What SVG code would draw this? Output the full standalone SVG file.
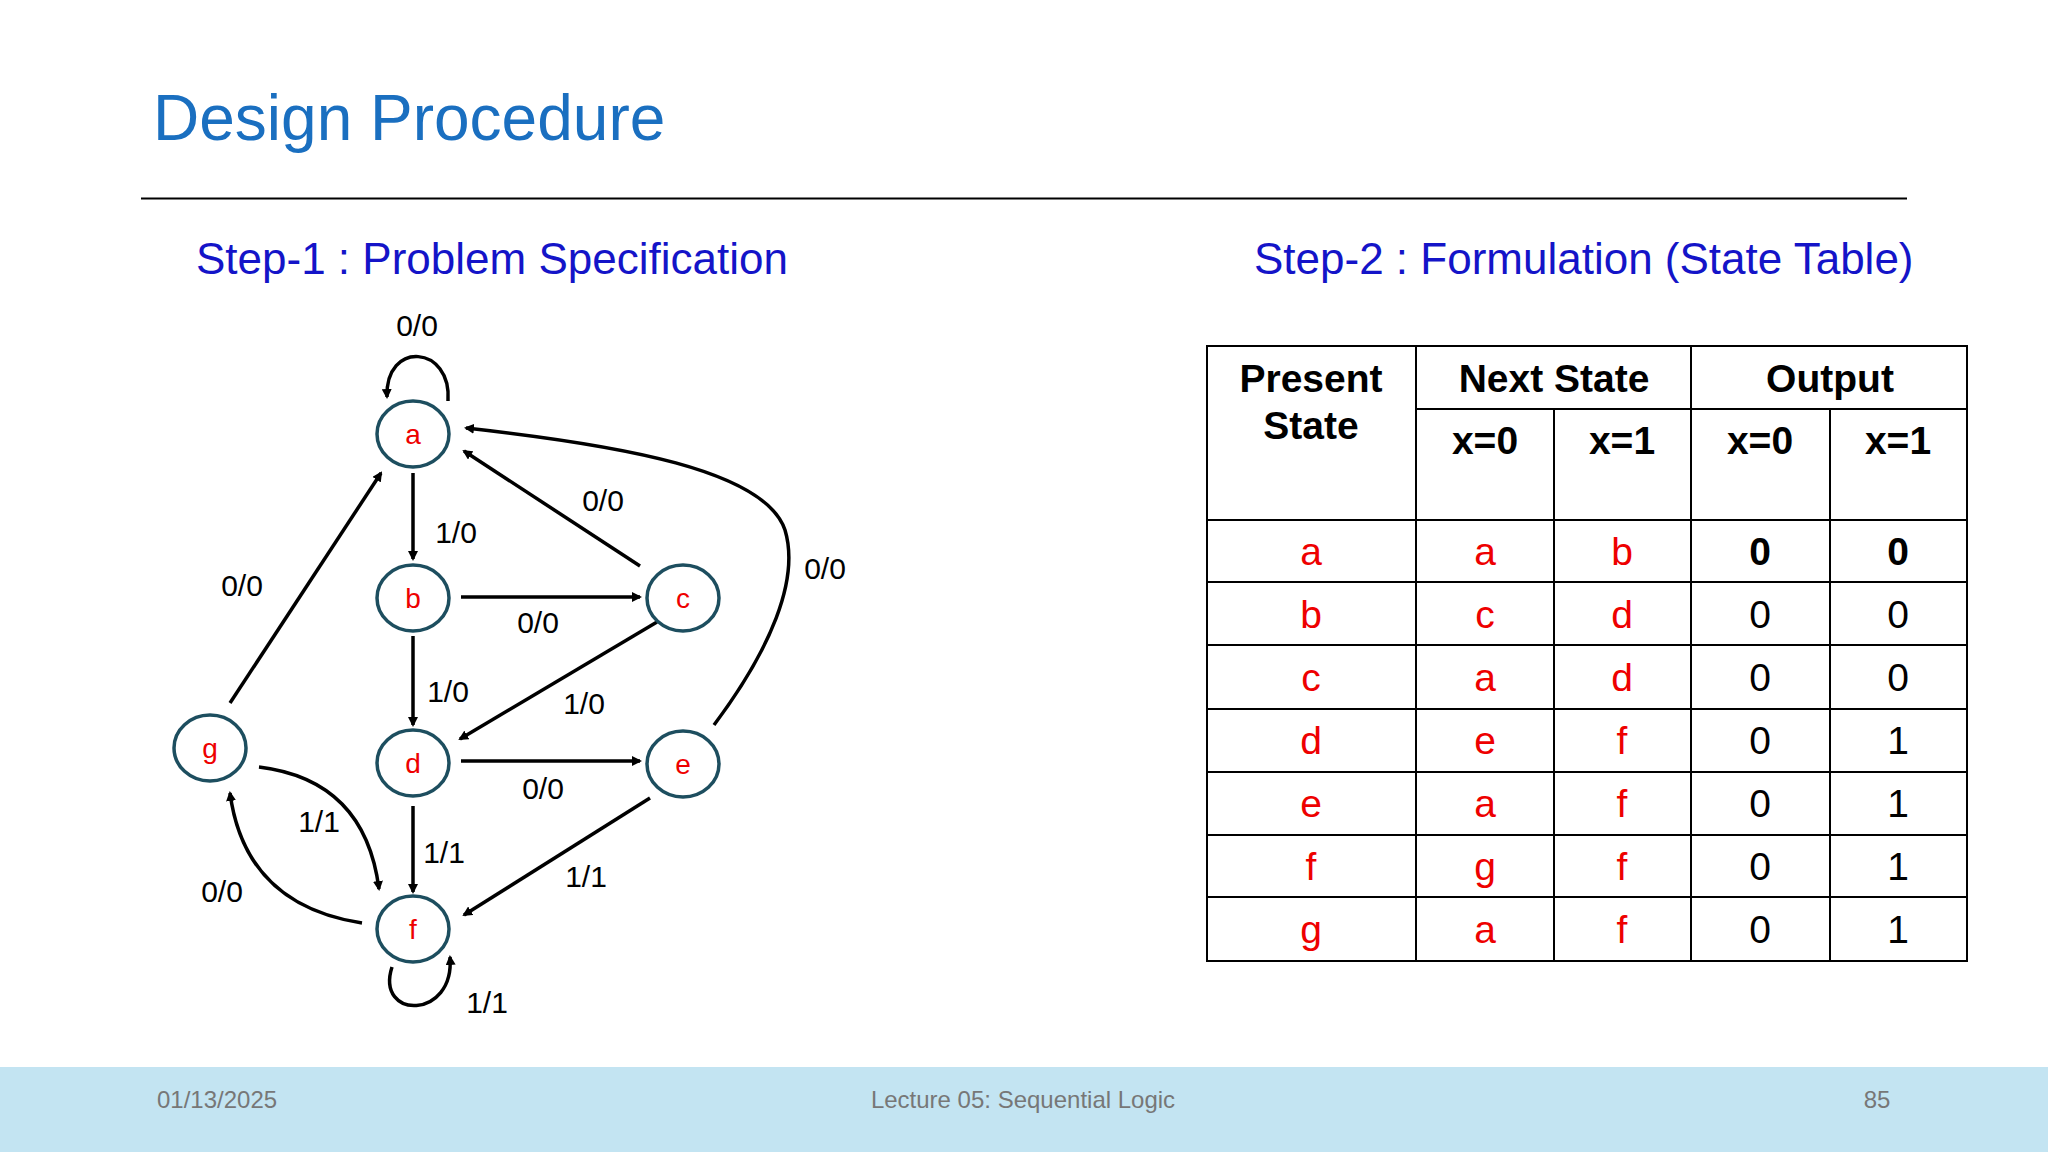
<svg xmlns="http://www.w3.org/2000/svg" width="2048" height="1152" viewBox="0 0 2048 1152">
<defs>
<marker id="ah" markerWidth="10" markerHeight="10" refX="8" refY="5" orient="auto" markerUnits="userSpaceOnUse" viewBox="0 0 10 10"><path d="M0,0 L10,5 L0,10 z" fill="#000"/></marker>
<style>
.t{font-family:"Liberation Sans",Arial,sans-serif}
.node ellipse{fill:#fff;stroke:#1d4e5f;stroke-width:3.5}
.node text{font-family:"Liberation Sans",Arial,sans-serif;font-size:28px;fill:#e00;text-anchor:middle;dominant-baseline:central}
.e{fill:none;stroke:#000;stroke-width:3.5;marker-end:url(#ah)}
.lb{font-family:"Liberation Sans",Arial,sans-serif;font-size:30px;fill:#000;text-anchor:middle;dominant-baseline:central}
.g{stroke:#000;stroke-width:2;fill:none}
.h{font-family:"Liberation Sans",Arial,sans-serif;font-size:39px;font-weight:bold;text-anchor:middle}
.c{font-family:"Liberation Sans",Arial,sans-serif;font-size:39px;text-anchor:middle;dominant-baseline:central}
.r{fill:#e00}
.f{font-family:"Liberation Sans",Arial,sans-serif;font-size:24px;fill:#777}
</style>
</defs>
<rect width="2048" height="1152" fill="#fff"/>
<text class="t" x="153" y="140" font-size="64" fill="#1a6fc0">Design Procedure</text>
<line x1="141" y1="198.5" x2="1907" y2="198.5" stroke="#000" stroke-width="2"/>
<text class="t" x="196" y="274" font-size="44" fill="#1414c8">Step-1 : Problem Specification</text>
<text class="t" x="1254" y="274" font-size="44" fill="#1414c8">Step-2 : Formulation (State Table)</text>

<g id="connectors">
<path class="e" d="M448,401 C452,345 385,340 387,397"/>
<path class="e" d="M413,473 L413,559"/>
<path class="e" d="M461,597 L640,597"/>
<path class="e" d="M640,566 L464,451"/>
<path class="e" d="M413,636 L413,725"/>
<path class="e" d="M657,622 L460,739"/>
<path class="e" d="M461,761 L640,761"/>
<path class="e" d="M714,725 C770,650 800,580 785,530 C765,470 620,445 466,428"/>
<path class="e" d="M413,806 L413,892"/>
<path class="e" d="M650,798 L464,915"/>
<path class="e" d="M230,703 L381,473"/>
<path class="e" d="M259,767 Q365,780 379,889"/>
<path class="e" d="M362,923 Q245,905 230,793"/>
<path class="e" d="M392,967 C375,1020 455,1020 450,957"/>
<text class="lb" x="417" y="325">0/0</text>
<text class="lb" x="456" y="532">1/0</text>
<text class="lb" x="538" y="622">0/0</text>
<text class="lb" x="603" y="500">0/0</text>
<text class="lb" x="448" y="691">1/0</text>
<text class="lb" x="584" y="703">1/0</text>
<text class="lb" x="543" y="788">0/0</text>
<text class="lb" x="825" y="568">0/0</text>
<text class="lb" x="444" y="852">1/1</text>
<text class="lb" x="586" y="876">1/1</text>
<text class="lb" x="242" y="585">0/0</text>
<text class="lb" x="319" y="821">1/1</text>
<text class="lb" x="222" y="891">0/0</text>
<text class="lb" x="487" y="1002">1/1</text>
</g>

<g id="node-a" class="node"><ellipse cx="413" cy="434" rx="36" ry="33"/><text x="413" y="434">a</text></g>
<g id="node-b" class="node"><ellipse cx="413" cy="598" rx="36" ry="33"/><text x="413" y="598">b</text></g>
<g id="node-c" class="node"><ellipse cx="683" cy="598" rx="36" ry="33"/><text x="683" y="598">c</text></g>
<g id="node-d" class="node"><ellipse cx="413" cy="763" rx="36" ry="33"/><text x="413" y="763">d</text></g>
<g id="node-e" class="node"><ellipse cx="683" cy="764" rx="36" ry="33"/><text x="683" y="764">e</text></g>
<g id="node-g" class="node"><ellipse cx="210" cy="748" rx="36" ry="33"/><text x="210" y="748">g</text></g>
<g id="node-f" class="node"><ellipse cx="413" cy="929" rx="36" ry="33"/><text x="413" y="929">f</text></g>

<g id="table">
<rect x="1207" y="346" width="760" height="615" class="g"/>
<line class="g" x1="1416" y1="409" x2="1967" y2="409"/>
<line class="g" x1="1416" y1="346" x2="1416" y2="961"/>
<line class="g" x1="1554" y1="409" x2="1554" y2="961"/>
<line class="g" x1="1691" y1="346" x2="1691" y2="961"/>
<line class="g" x1="1830" y1="409" x2="1830" y2="961"/>
<line class="g" x1="1207" y1="520" x2="1967" y2="520"/>
<line class="g" x1="1207" y1="582" x2="1967" y2="582"/>
<line class="g" x1="1207" y1="645" x2="1967" y2="645"/>
<line class="g" x1="1207" y1="709" x2="1967" y2="709"/>
<line class="g" x1="1207" y1="772" x2="1967" y2="772"/>
<line class="g" x1="1207" y1="835" x2="1967" y2="835"/>
<line class="g" x1="1207" y1="897" x2="1967" y2="897"/>
<text class="h" x="1311" y="392">Present</text>
<text class="h" x="1311" y="439">State</text>
<text class="h" x="1554" y="392">Next State</text>
<text class="h" x="1830" y="392">Output</text>
<text class="h" x="1485" y="454">x=0</text>
<text class="h" x="1622" y="454">x=1</text>
<text class="h" x="1760" y="454">x=0</text>
<text class="h" x="1898" y="454">x=1</text>
<g class="c">
<text class="r" x="1311" y="551">a</text><text class="r" x="1485" y="551">a</text><text class="r" x="1622" y="551">b</text><text x="1760" y="551" font-weight="bold">0</text><text x="1898" y="551" font-weight="bold">0</text>
<text class="r" x="1311" y="614">b</text><text class="r" x="1485" y="614">c</text><text class="r" x="1622" y="614">d</text><text x="1760" y="614">0</text><text x="1898" y="614">0</text>
<text class="r" x="1311" y="677">c</text><text class="r" x="1485" y="677">a</text><text class="r" x="1622" y="677">d</text><text x="1760" y="677">0</text><text x="1898" y="677">0</text>
<text class="r" x="1311" y="740">d</text><text class="r" x="1485" y="740">e</text><text class="r" x="1622" y="740">f</text><text x="1760" y="740">0</text><text x="1898" y="740">1</text>
<text class="r" x="1311" y="803">e</text><text class="r" x="1485" y="803">a</text><text class="r" x="1622" y="803">f</text><text x="1760" y="803">0</text><text x="1898" y="803">1</text>
<text class="r" x="1311" y="866">f</text><text class="r" x="1485" y="866">g</text><text class="r" x="1622" y="866">f</text><text x="1760" y="866">0</text><text x="1898" y="866">1</text>
<text class="r" x="1311" y="929">g</text><text class="r" x="1485" y="929">a</text><text class="r" x="1622" y="929">f</text><text x="1760" y="929">0</text><text x="1898" y="929">1</text>
</g>
</g>

<rect x="0" y="1067" width="2048" height="85" fill="#c3e4f2"/>
<text class="f" x="157" y="1108">01/13/2025</text>
<text class="f" x="1023" y="1108" text-anchor="middle">Lecture 05: Sequential Logic</text>
<text class="f" x="1877" y="1108" text-anchor="middle">85</text>
</svg>
